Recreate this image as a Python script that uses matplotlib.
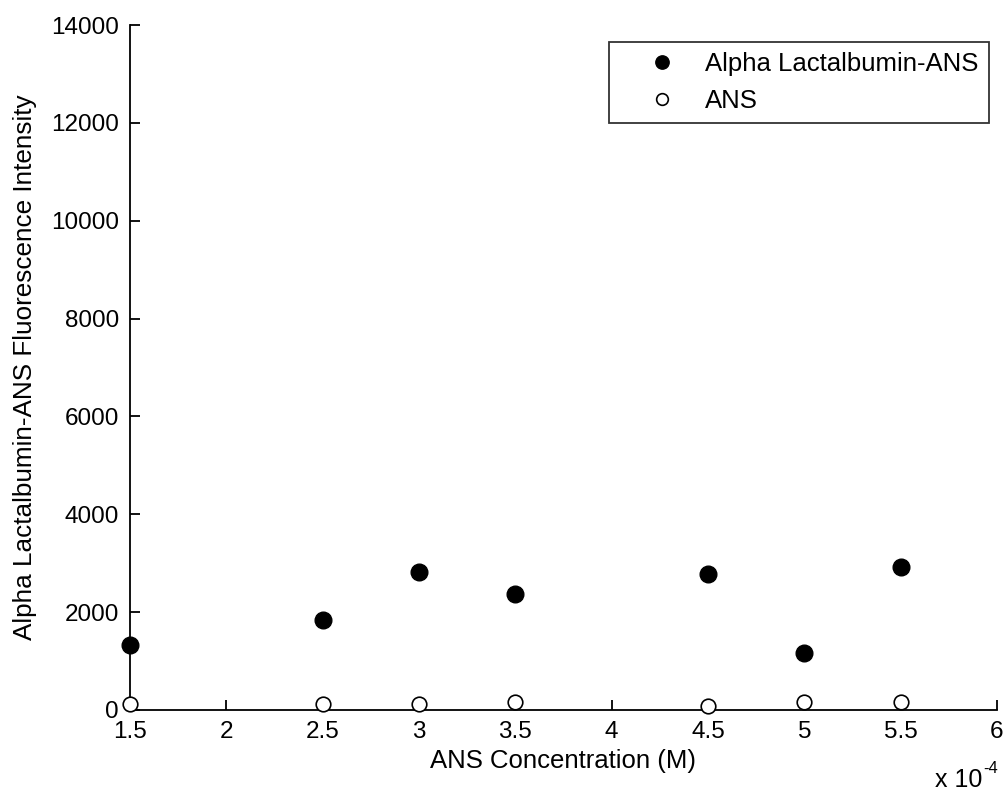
import matplotlib
matplotlib.use('Agg')
import matplotlib.pyplot as plt

# ANS concentration in units of 1e-4 M
conc = [1.5, 2.5, 3.0, 3.5, 4.5, 5.0, 5.5]
protein_ans = [1330, 1830, 2810, 2365, 2775, 1170, 2930]
ans_only = [110, 110, 110, 150, 70, 150, 150]

x_ticks = [1.5, 2, 2.5, 3, 3.5, 4, 4.5, 5, 5.5, 6]
y_ticks = [0, 2000, 4000, 6000, 8000, 10000, 12000, 14000]

plt.rcParams['font.family'] = ['Liberation Sans', 'DejaVu Sans']

fig = plt.figure(figsize=(10.08, 7.94), dpi=100)
ax = fig.add_axes([0.129, 0.106, 0.860, 0.8625])

ax.plot(conc, protein_ans, 'o', color='black', markersize=12,
        label='Alpha Lactalbumin-ANS', clip_on=False, zorder=3)
ax.plot(conc, ans_only, 'o', markerfacecolor='white', markeredgecolor='black',
        markeredgewidth=1.2, markersize=10.5, label='ANS', clip_on=False, zorder=3)

ax.set_xlim(1.5, 6)
ax.set_ylim(0, 14000)
ax.set_xticks(x_ticks)
ax.set_xticklabels([f'{t:g}' for t in x_ticks])
ax.set_yticks(y_ticks)
ax.set_yticklabels([str(t) for t in y_ticks])

for side in ['top', 'right']:
    ax.spines[side].set_visible(False)
for side in ['left', 'bottom']:
    ax.spines[side].set_linewidth(1.3)

ax.tick_params(direction='in', length=7, width=1.3, labelsize=17.5, pad=8)
ax.set_xlabel('ANS Concentration (M)', fontsize=18.5, labelpad=4)
ax.set_ylabel('Alpha Lactalbumin-ANS Fluorescence Intensity', fontsize=18.8, labelpad=10)

# MATLAB-style exponent label under the right end of the x axis
ax.text(0.9827, -0.1124, 'x 10', transform=ax.transAxes, ha='right', va='baseline',
        fontsize=18)
ax.text(0.9839, -0.092, '-4', transform=ax.transAxes, ha='left', va='baseline',
        fontsize=12)

leg = ax.legend(loc='upper right', bbox_to_anchor=(0.9908, 0.9752), fontsize=18.5,
                frameon=True, fancybox=False, edgecolor='black', borderpad=0.4,
                handlelength=3.3, handletextpad=0.05, labelspacing=0.5,
                borderaxespad=0, markerscale=0.8)
leg.get_frame().set_linewidth(1.3)

fig.savefig('out.png', dpi=100)
